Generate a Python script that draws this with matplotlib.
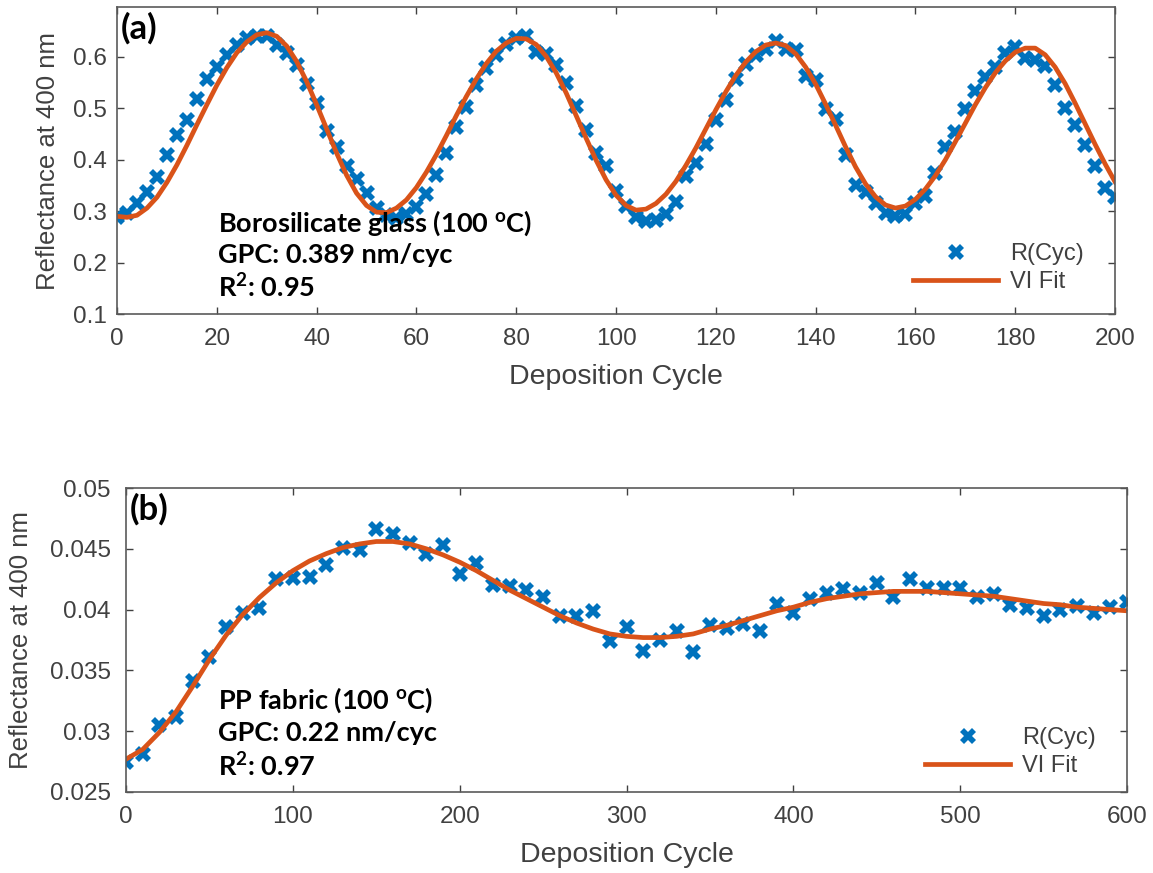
import numpy as np
import matplotlib
matplotlib.use("Agg")
import matplotlib.pyplot as plt

# ---- panel (a): borosilicate glass ----
cyc_a = np.arange(0, 201, 2)
refl_a = [0.289, 0.297, 0.315, 0.338, 0.367, 0.410, 0.449, 0.478, 0.518, 0.556,
          0.581, 0.604, 0.624, 0.636, 0.640, 0.641, 0.624, 0.607, 0.585, 0.547,
          0.510, 0.456, 0.425, 0.387, 0.362, 0.335, 0.306, 0.293, 0.287, 0.294,
          0.309, 0.333, 0.370, 0.414, 0.463, 0.503, 0.545, 0.578, 0.604, 0.625,
          0.637, 0.640, 0.610, 0.605, 0.584, 0.550, 0.505, 0.457, 0.414, 0.387,
          0.340, 0.311, 0.289, 0.281, 0.283, 0.294, 0.317, 0.369, 0.393, 0.430,
          0.477, 0.517, 0.557, 0.587, 0.604, 0.616, 0.631, 0.616, 0.614, 0.563,
          0.555, 0.498, 0.480, 0.410, 0.351, 0.337, 0.315, 0.296, 0.290, 0.295,
          0.316, 0.330, 0.374, 0.424, 0.454, 0.499, 0.533, 0.560, 0.581, 0.608,
          0.620, 0.597, 0.594, 0.583, 0.546, 0.500, 0.468, 0.428, 0.387, 0.345,
          0.327]
fit_a = [0.290, 0.288, 0.292, 0.306, 0.327, 0.356, 0.390, 0.428, 0.468, 0.507,
         0.545, 0.579, 0.608, 0.629, 0.643, 0.647, 0.640, 0.621, 0.591, 0.552,
         0.507, 0.460, 0.413, 0.370, 0.335, 0.311, 0.298, 0.297, 0.306, 0.322,
         0.346, 0.376, 0.410, 0.447, 0.486, 0.523, 0.557, 0.587, 0.611, 0.627,
         0.636, 0.635, 0.624, 0.601, 0.569, 0.530, 0.486, 0.442, 0.399, 0.361,
         0.331, 0.311, 0.302, 0.304, 0.315, 0.333, 0.358, 0.389, 0.423, 0.460,
         0.497, 0.532, 0.564, 0.590, 0.610, 0.623, 0.627, 0.622, 0.606, 0.580,
         0.547, 0.508, 0.467, 0.425, 0.386, 0.353, 0.328, 0.312, 0.306, 0.310,
         0.323, 0.343, 0.369, 0.400, 0.435, 0.471, 0.507, 0.540, 0.569, 0.592,
         0.609, 0.617, 0.617, 0.604, 0.580, 0.548, 0.510, 0.470, 0.430, 0.392,
         0.357]

# ---- panel (b): PP fabric ----
cyc_b = np.arange(0, 601, 10)
refl_b = [0.0275, 0.0281, 0.0305, 0.0312, 0.0341, 0.0361, 0.0386, 0.0397, 0.0401, 0.0425,
          0.0426, 0.0427, 0.0437, 0.0451, 0.0449, 0.0466, 0.0462, 0.0455, 0.0446, 0.0453,
          0.0429, 0.0438, 0.0420, 0.0419, 0.0416, 0.0410, 0.0395, 0.0395, 0.0399, 0.0374,
          0.0386, 0.0366, 0.0375, 0.0382, 0.0365, 0.0387, 0.0385, 0.0388, 0.0382, 0.0405,
          0.0397, 0.0409, 0.0414, 0.0417, 0.0414, 0.0422, 0.0410, 0.0425, 0.0418, 0.0418,
          0.0418, 0.0410, 0.0413, 0.0404, 0.0401, 0.0395, 0.0400, 0.0403, 0.0397, 0.0402,
          0.0406]
fit_b = [0.0277, 0.0285, 0.0299, 0.0316, 0.0337, 0.0359, 0.0379, 0.0396, 0.0410, 0.0422,
         0.0432, 0.0440, 0.0446, 0.0451, 0.0454, 0.0456, 0.0456, 0.0454, 0.0450, 0.0445,
         0.0439, 0.0432, 0.0424, 0.0416, 0.0409, 0.0402, 0.0395, 0.0389, 0.0384, 0.0380,
         0.0378, 0.0377, 0.0377, 0.0378, 0.0380, 0.0384, 0.0387, 0.0391, 0.0395, 0.0399,
         0.0402, 0.0406, 0.0409, 0.0411, 0.0413, 0.0414, 0.0415, 0.0415, 0.0415, 0.0414,
         0.0413, 0.0412, 0.0411, 0.0409, 0.0407, 0.0405, 0.0404, 0.0402, 0.0401, 0.0400,
         0.0399]

notes_a = ["Borosilicate glass (100 $^{o}$C)", "GPC: 0.389 nm/cyc", "R$^{2}$: 0.95"]
notes_b = ["PP fabric (100 $^{o}$C)", "GPC: 0.22 nm/cyc", "R$^{2}$: 0.97"]

plt.rcParams['font.family'] = ['Liberation Sans', 'DejaVu Sans']
plt.rcParams['mathtext.fontset'] = 'custom'
plt.rcParams['mathtext.rm'] = 'Lato:bold'
plt.rcParams['mathtext.it'] = 'Lato:bold'
plt.rcParams['mathtext.bf'] = 'Lato:bold'

blue = '#0072BD'
orange = '#D95319'
gray = '#404040'

fig = plt.figure(figsize=(11.53, 8.73), dpi=100)
ax_a = fig.add_axes([0.1015, 0.6403, 0.8656, 0.3517])
ax_b = fig.add_axes([0.1093, 0.0928, 0.8682, 0.3482])


def style(ax, xlim, ylim, xticks, yticks, yfmt, ypad, ylabelpad):
    ax.set_xlim(*xlim)
    ax.set_ylim(*ylim)
    ax.set_xticks(xticks)
    ax.set_yticks(yticks)
    ax.set_yticklabels([yfmt.format(v) for v in yticks])
    ax.tick_params(direction='in', top=True, right=True, length=5, width=1,
                   colors=gray, labelsize=17.5)
    ax.tick_params(axis='x', pad=10)
    ax.tick_params(axis='y', pad=ypad)
    for sp in ax.spines.values():
        sp.set_color('#5a5a5a')
        sp.set_linewidth(1.2)
    ax.set_xlabel('Deposition Cycle', fontsize=20.5, color=gray, labelpad=10)
    ax.set_ylabel('Reflectance at 400 nm', fontsize=18.5, color=gray,
                  labelpad=ylabelpad)


def draw(ax, x, data, fit, notes, tag, note_x, note_y, note_dy, leg_y):
    ax.plot(x, data, linestyle='none', marker='X', markersize=11.5,
            color=blue, markeredgewidth=0, label='R(Cyc)')
    ax.plot(x, fit, color=orange, linewidth=3.4, solid_joinstyle='round',
            label='VI Fit')
    ax.text(0.004, 0.985, tag, transform=ax.transAxes, fontsize=25,
            fontweight='bold', family='Lato', va='top', ha='left')
    for i, s in enumerate(notes):
        ax.text(note_x, note_y - i * note_dy, s, transform=ax.transAxes,
                fontsize=19.5, fontweight='bold', family='Lato',
                va='center', ha='left')
    leg = ax.legend(loc='lower right', bbox_to_anchor=(0.99, leg_y),
                    frameon=False, fontsize=17, handlelength=3.6,
                    labelspacing=0.25, handletextpad=0.5)
    for t in leg.get_texts():
        t.set_color(gray)


style(ax_a, (0, 200), (0.1, 0.697), np.arange(0, 201, 20),
      [0.1, 0.2, 0.3, 0.4, 0.5, 0.6], '{:.1f}', 7, 10)
draw(ax_a, cyc_a, refl_a, fit_a, notes_a, '(a)', 0.101, 0.295, 0.104, 0.0)

style(ax_b, (0, 600), (0.025, 0.05), np.arange(0, 601, 100),
      [0.025, 0.03, 0.035, 0.04, 0.045, 0.05], '{:g}', 11, 12)
draw(ax_b, cyc_b, refl_b, fit_b, notes_b, '(b)', 0.092, 0.303, 0.109, -0.02)

fig.savefig('out.png', dpi=100)
